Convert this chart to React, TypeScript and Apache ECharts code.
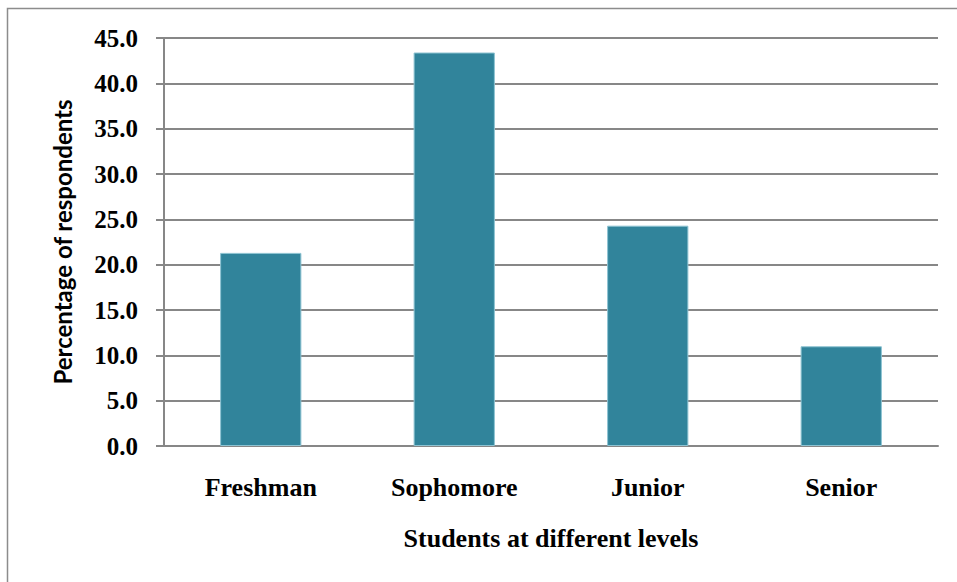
import React, { useEffect, useRef } from "react";
import * as echarts from "echarts";

// Share of respondents by class year
const levels = ["Freshman", "Sophomore", "Junior", "Senior"];
const percentages = [21.3, 43.4, 24.3, 11.0];

const yAxisTitle = "Percentage of respondents";
const xAxisTitle = "Students at different levels";

const serif = "'Liberation Serif', 'Times New Roman', serif";
const sans = "Lato, 'Open Sans', sans-serif";
const gridGray = "#878787";
const barColor = "#31849B";

export default function App() {
  const ref = useRef<HTMLDivElement>(null);

  useEffect(() => {
    if (!ref.current) return;
    const chart = echarts.init(ref.current, undefined, { renderer: "svg" });
    chart.setOption({
      animation: false,
      backgroundColor: "#ffffff",
      graphic: [
        {
          type: "rect",
          shape: { x: 7.5, y: 8.5, width: 1000, height: 1000 },
          style: { fill: "none", stroke: "#8c8c8c", lineWidth: 1.5 },
          silent: true,
        },
      ],
      grid: { left: 164, right: 19, top: 38, bottom: 136 },
      xAxis: {
        type: "category",
        data: levels,
        axisLine: { lineStyle: { color: gridGray, width: 2 } },
        axisTick: { show: false },
        axisLabel: {
          margin: 28,
          fontFamily: serif,
          fontWeight: "bold",
          fontSize: 26,
          color: "#000",
        },
        name: xAxisTitle,
        nameLocation: "middle",
        nameGap: 79,
        nameTextStyle: {
          fontFamily: serif,
          fontWeight: "bold",
          fontSize: 26,
          color: "#000",
        },
      },
      yAxis: {
        type: "value",
        min: 0,
        max: 45,
        interval: 5,
        axisLine: { show: true, lineStyle: { color: gridGray, width: 2 } },
        axisTick: { show: true, length: 8, lineStyle: { color: gridGray, width: 2 } },
        splitLine: { lineStyle: { color: gridGray, width: 2 } },
        axisLabel: {
          margin: 26,
          formatter: (v: number) => v.toFixed(1),
          fontFamily: serif,
          fontWeight: "bold",
          fontSize: 25,
          color: "#000",
        },
        name: yAxisTitle,
        nameLocation: "middle",
        nameGap: 90,
        nameRotate: 90,
        nameTextStyle: {
          fontFamily: sans,
          fontWeight: "bold",
          fontSize: 24,
          color: "#000",
        },
      },
      series: [
        {
          type: "bar",
          data: percentages,
          barWidth: "42%",
          itemStyle: {
            color: barColor,
            borderColor: "#8ec3d2",
            borderWidth: 1,
          },
        },
      ],
    });
    return () => chart.dispose();
  }, []);

  return (
    <div
      ref={ref}
      style={{ position: "fixed", left: 0, top: 0, width: 957, height: 582 }}
    />
  );
}
